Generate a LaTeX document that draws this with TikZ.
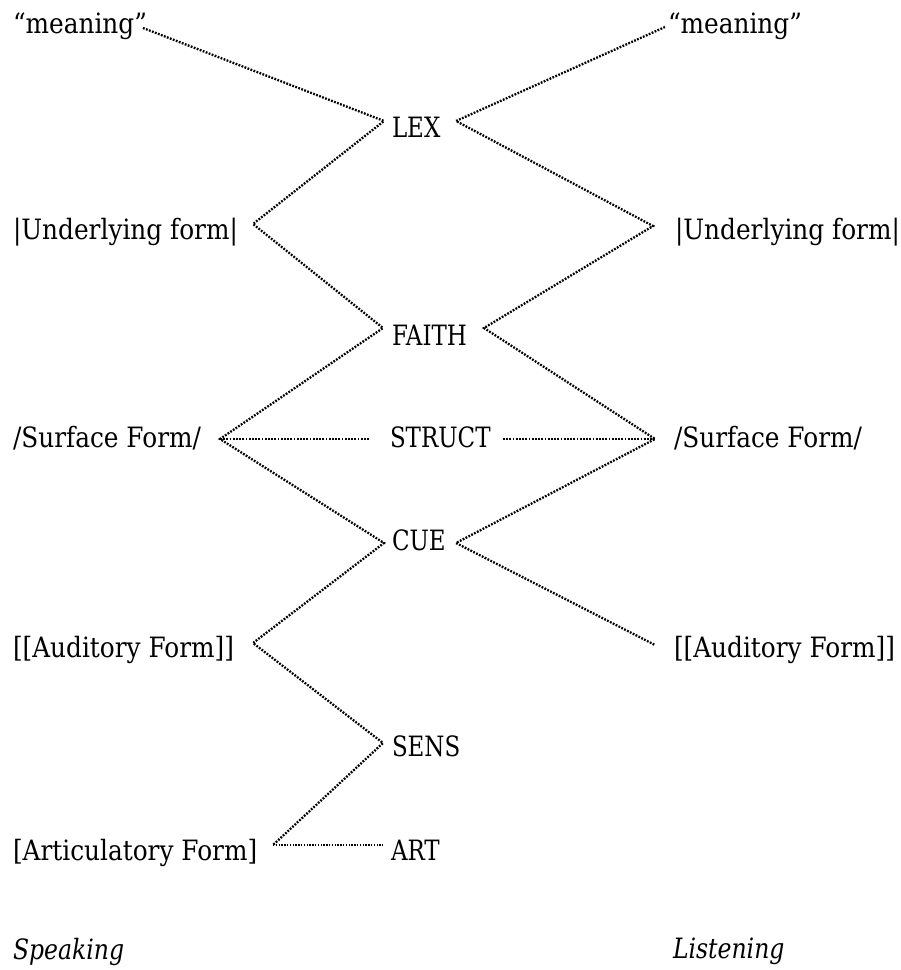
\documentclass[tikz,border=0pt]{standalone}
\usepackage{fontspec}
\setmainfont[FakeStretch=0.885]{DejaVu Serif}
% narrower cuts of the same face: all-caps constraint names, italic captions
\newfontfamily\capsface[FakeStretch=0.82]{DejaVu Serif}
\newfontfamily\captface[FakeStretch=0.84]{DejaVu Serif}
\tikzset{
  lbl/.style={anchor=base west, inner sep=0pt, outer sep=0pt, text depth=0pt,
              font=\fontsize{28}{34}\selectfont},
  con/.style={lbl, font=\fontsize{28}{34}\selectfont\capsface},
  capt/.style={lbl, font=\fontsize{28}{34}\selectfont\captface\itshape},
  link/.style={line width=2.3pt, dash pattern=on 1.8pt off 1.4pt},
  thinlink/.style={line width=1.5pt, dash pattern=on 1.4pt off 1.4pt},
}
\begin{document}
\begin{tikzpicture}[x=1pt,y=-1pt]
\useasboundingbox (0,0) rectangle (901,970);

% speaking side (left column)
\node[lbl, text height=10pt] (mL)  at (13,33)  {\makebox[130pt][l]{“meaning”}};
\node[lbl, text height=30pt] (uL)  at (13,239) {\makebox[240pt][l]{|Underlying form|}};
\node[lbl, text height=16pt] (sL)  at (13,447) {\makebox[207pt][l]{/Surface Form/}};
\node[lbl, text height=28pt] (aL)  at (13,657) {\makebox[240pt][l]{[[Auditory Form]]}};
\node[lbl, text height=30pt] (arL) at (13,860) {\makebox[260pt][l]{[Articulatory Form]}};

% constraint families (middle column)
\node[con, text height=32pt] (lex)    at (384,137) {\hspace*{8pt}\makebox[64pt][l]{LEX}};
\node[con, text height=34pt] (faith)  at (383,345) {\hspace*{9pt}\makebox[92pt][l]{FAITH}};
\node[con, text height=16pt] (struct) at (370,447) {\hspace*{20pt}\makebox[113pt][l]{STRUCT}};
\node[con, text height=14pt] (cue)    at (384,550) {\hspace*{8pt}\makebox[64pt][l]{CUE}};
\node[con, text height=26pt] (sens)   at (383,756) {\hspace*{9pt}SENS};
\node[con, text height=30pt] (art)    at (383,860) {\hspace*{8pt}ART};

% listening side (right column)
\node[lbl, text height=12pt] (mR) at (665,33)  {\hspace*{3pt}“meaning”};
\node[lbl, text height=26pt] (uR) at (653,239) {\hspace*{22pt}|Underlying form|};
\node[lbl, text height=16pt] (sR) at (655,447) {\hspace*{19pt}/Surface Form/};
\node[lbl, text height=24pt] (aR) at (655,657) {\hspace*{19pt}[[Auditory Form]]};

% direction captions
\node[capt] (speak)  at (13,959)  {Speaking};
\node[capt] (listen) at (673,958) {Listening};

% speaking path
\draw[link] (mL.east) -- (lex.west) -- (uL.east) -- (faith.west) -- (sL.east)
  -- (cue.west) -- (aL.east) -- (sens.west) -- (arL.east);
\draw[thinlink] (arL.east) -- (art.west);
\draw[link] (sL.east) -- (struct.west);

% listening path
\draw[link] (mR.west) -- (lex.east) -- (uR.west) -- (faith.east) -- (sR.west)
  -- (cue.east) -- (aR.west);
\draw[link] (struct.east) -- (sR.west);
\end{tikzpicture}
\end{document}
